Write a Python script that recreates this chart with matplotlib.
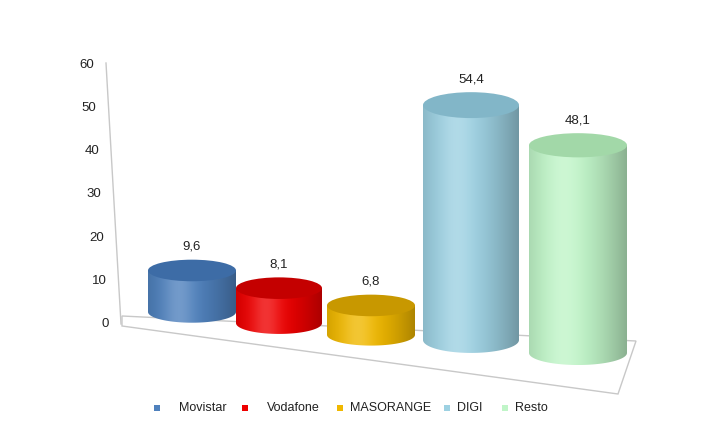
import matplotlib
matplotlib.use("Agg")
import matplotlib.pyplot as plt
import numpy as np
from matplotlib.patches import Ellipse, Polygon, Rectangle
from matplotlib.colors import to_rgb

categories = ["Movistar", "Vodafone", "MASORANGE", "DIGI", "Resto"]
values = [9.6, 8.1, 6.8, 54.4, 48.1]
labels = ["9,6", "8,1", "6,8", "54,4", "48,1"]
ticks = [0, 10, 20, 30, 40, 50, 60]
body_colors = ["#4f81bd", "#ee0000", "#f0b800", "#9dd1e2", "#c0f5c8"]
top_colors = ["#3d6ca6", "#c40000", "#c89800", "#82b6c8", "#a2d8a8"]

# layout (pixel x, value-unit y offsets for perspective)
cx = [192, 279, 371, 471, 578]
hw = [44, 43, 44, 48, 49]
base = [2.8, 0.2, -2.5, -3.7, -6.7]
eh = [5.0, 5.0, 5.0, 6.0, 5.6]
PX = 4.317
def vy(py):
    return (324 - py) / PX

fig = plt.figure(figsize=(7.07, 4.26), dpi=100)
ax = fig.add_axes([0, 0, 1, 1])
ax.set_xlim(0, 707)
ax.set_ylim(vy(426), vy(0))
ax.axis("off")

floor = Polygon([(122, vy(316)), (636, vy(341)), (618, vy(394)), (122, vy(326))],
                closed=True, facecolor="white", edgecolor="#c8c8c8", lw=1, zorder=1)
ax.add_patch(floor)
ax.plot([106, 121], [vy(63), vy(324)], color="#c8c8c8", lw=1, zorder=1)
for t in ticks:
    x = 121 - (t / 60) * 15
    ax.text(x - 12, t, str(t), ha="right", va="center", fontsize=9.5,
            family="Liberation Sans", color="#222222")

for i, v in enumerate(values):
    b = base[i]
    top = v + b
    x0, x1 = cx[i] - hw[i], cx[i] + hw[i]
    c = np.array(to_rgb(body_colors[i]))
    xs = np.linspace(-1, 1, 200)
    shade = 0.7 + 0.3 * np.cos((xs + 0.25) * 1.2)
    light = np.clip(c[None, :] * shade[:, None], 0, 1)
    hl = np.exp(-((xs + 0.3) / 0.35) ** 2)[:, None] * 0.2
    img = np.clip(light + hl * (1 - light), 0, 1)[None, :, :]
    clip = Polygon([(x0, top), (x1, top)] +
                   [(cx[i] + hw[i] * np.cos(a), b + eh[i] / 2 * np.sin(a))
                    for a in np.linspace(0, -np.pi, 60)],
                   closed=True, transform=ax.transData, facecolor="none", edgecolor="none")
    ax.add_patch(clip)
    im = ax.imshow(img, extent=(x0, x1, b - eh[i] / 2, top), aspect="auto",
                   zorder=2 + i, interpolation="bilinear")
    im.set_clip_path(clip)
    ax.add_patch(Ellipse((cx[i], top), 2 * hw[i], eh[i], facecolor=top_colors[i],
                         edgecolor="none", zorder=2.5 + i))
    ax.text(cx[i], top + eh[i] / 2 + 1.6, labels[i], ha="center", va="bottom",
            fontsize=9.5, family="Liberation Sans", color="#222222", zorder=10)

leg_x = [157, 245, 340, 447, 505]
for i, name in enumerate(categories):
    ax.add_patch(Rectangle((leg_x[i] - 3, vy(411)), 6, 6 / PX, facecolor=body_colors[i],
                           edgecolor="none", zorder=10))
    ax.text(leg_x[i] + 22 if i < 2 else leg_x[i] + 10, vy(408), name, ha="left",
            va="center", fontsize=9, family="Liberation Sans", color="#222222")

fig.savefig("out.png", dpi=100, facecolor="white")
